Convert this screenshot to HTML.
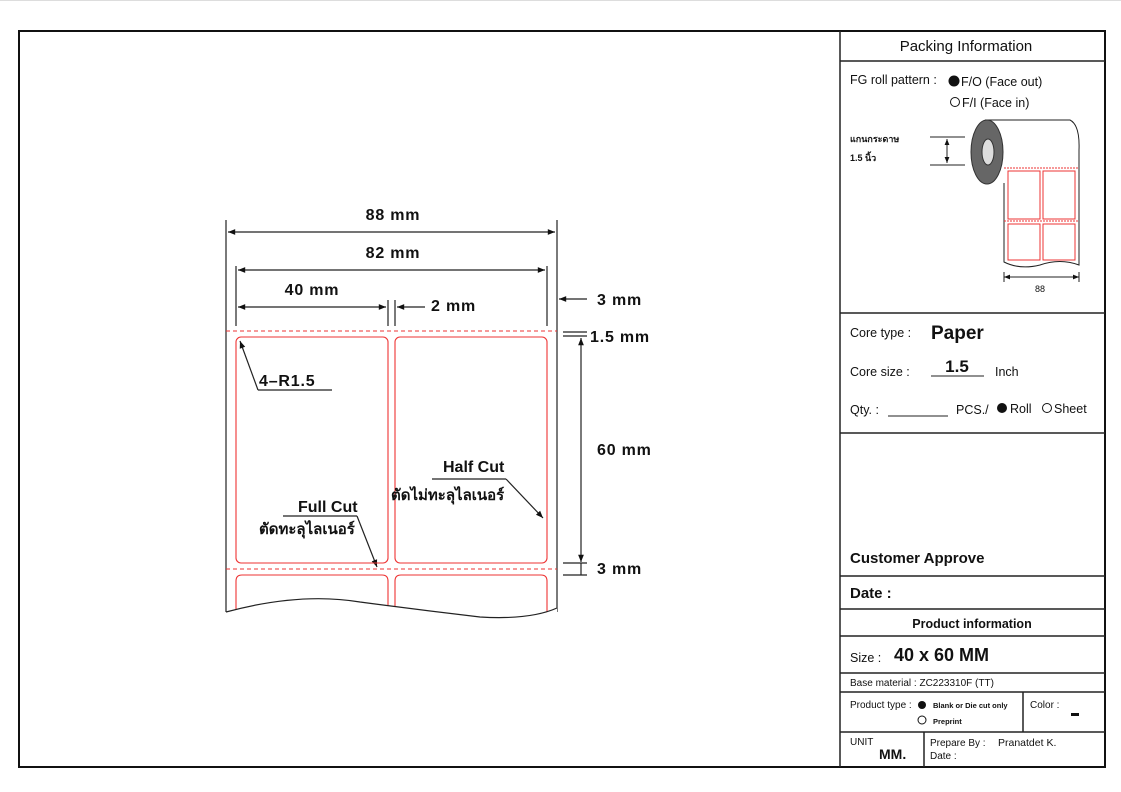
<!DOCTYPE html>
<html><head><meta charset="utf-8"><style>
html,body{margin:0;padding:0;background:#fff}
svg{display:block}
text{font-family:"Liberation Sans","Noto Sans CJK SC",sans-serif;fill:#111}
.b{font-weight:bold}
</style></head><body>
<svg width="1121" height="792" viewBox="0 0 1121 792" xmlns="http://www.w3.org/2000/svg">
<defs>
<marker id="a" viewBox="0 0 10 10" refX="10" refY="5" markerWidth="8" markerHeight="6" orient="auto-start-reverse"><path d="M0,1 L10,5 L0,9 z" fill="#111"/></marker>
</defs>
<line x1="0" y1="0.5" x2="1121" y2="0.5" stroke="#ddd"/>
<rect x="19" y="31" width="1086" height="736" fill="none" stroke="#111" stroke-width="2"/>
<g stroke="#222" stroke-width="1.5" fill="none">
<line x1="840" y1="31" x2="840" y2="767"/>
<line x1="840" y1="61" x2="1105" y2="61"/>
<line x1="840" y1="313" x2="1105" y2="313"/>
<line x1="840" y1="433" x2="1105" y2="433"/>
<line x1="840" y1="576" x2="1105" y2="576"/>
<line x1="840" y1="609" x2="1105" y2="609"/>
<line x1="840" y1="636" x2="1105" y2="636"/>
<line x1="840" y1="673" x2="1105" y2="673"/>
<line x1="840" y1="692" x2="1105" y2="692"/>
<line x1="840" y1="732" x2="1105" y2="732"/>
<line x1="1023" y1="692" x2="1023" y2="732"/>
<line x1="924" y1="732" x2="924" y2="767"/>
</g>
<text x="966" y="51" font-size="15" text-anchor="middle">Packing Information</text>
<text x="850" y="84" font-size="12.5">FG roll pattern :</text>
<circle cx="954" cy="81" r="5.5" fill="#111"/>
<text x="961" y="86" font-size="12.5">F/O (Face out)</text>
<circle cx="955" cy="102" r="4.5" fill="none" stroke="#111"/>
<text x="962" y="107" font-size="12.5">F/I (Face in)</text>
<text x="850" y="142" font-size="9" class="b">แกนกระดาษ</text>
<text x="850" y="161" font-size="9" class="b">1.5 นิ้ว</text>
<g stroke="#222" stroke-width="1" fill="none">
<line x1="930" y1="137" x2="965" y2="137"/><line x1="930" y1="165" x2="965" y2="165"/>
<line x1="947" y1="139" x2="947" y2="163" marker-start="url(#a)" marker-end="url(#a)"/>
<path d="M985,120 L1070,120 Q1080,125 1079,150 L1079,265 Q1060,258 1040,265 Q1020,270 1004,262 L1004,183"/>
<line x1="1004" y1="277" x2="1079" y2="277" marker-start="url(#a)" marker-end="url(#a)"/>
<line x1="1004" y1="272" x2="1004" y2="282"/><line x1="1079" y1="272" x2="1079" y2="282"/>
</g>
<ellipse cx="987" cy="152" rx="16" ry="32" fill="#666" stroke="#333"/>
<ellipse cx="988" cy="152" rx="6" ry="13" fill="#ddd" stroke="#333"/>
<g stroke="#e33" stroke-width="1" fill="none">
<line x1="1004" y1="168" x2="1079" y2="168" stroke-dasharray="2,1"/>
<line x1="1004" y1="221" x2="1079" y2="221" stroke-dasharray="2,1"/>
<rect x="1008" y="171" width="32" height="48"/><rect x="1043" y="171" width="32" height="48"/>
<rect x="1008" y="224" width="32" height="36"/><rect x="1043" y="224" width="32" height="36"/>
</g>
<text x="1040" y="292" font-size="9" text-anchor="middle">88</text>

<text x="850" y="337" font-size="12.5">Core type :</text>
<text x="931" y="339" font-size="19" class="b">Paper</text>
<text x="850" y="376" font-size="12.5">Core size :</text>
<text x="957" y="372" font-size="17" class="b" text-anchor="middle">1.5</text>
<line x1="931" y1="376" x2="984" y2="376" stroke="#222"/>
<text x="995" y="376" font-size="12.5">Inch</text>
<text x="850" y="414" font-size="12.5">Qty. :</text>
<line x1="888" y1="416" x2="948" y2="416" stroke="#222"/>
<text x="956" y="414" font-size="12.5">PCS./</text>
<circle cx="1002" cy="408" r="5" fill="#111"/>
<text x="1010" y="413" font-size="12.5">Roll</text>
<circle cx="1047" cy="408" r="4.5" fill="none" stroke="#111"/>
<text x="1054" y="413" font-size="12.5">Sheet</text>
<text x="850" y="563" font-size="15" class="b">Customer Approve</text>
<text x="850" y="598" font-size="15" class="b">Date :</text>
<text x="972" y="628" font-size="12.5" class="b" text-anchor="middle">Product information</text>
<text x="850" y="662" font-size="12.5">Size :</text>
<text x="894" y="661" font-size="18" class="b">40 x 60 MM</text>
<text x="850" y="686" font-size="10">Base material : ZC223310F (TT)</text>
<text x="850" y="708" font-size="10">Product type :</text>
<circle cx="922" cy="705" r="4" fill="#111"/>
<text x="933" y="708" font-size="7.5" class="b">Blank or Die cut only</text>
<circle cx="922" cy="720" r="4" fill="none" stroke="#111"/>
<text x="933" y="724" font-size="7.5" class="b">Preprint</text>
<text x="1030" y="708" font-size="10">Color :</text>
<rect x="1071" y="713" width="8" height="3" fill="#111"/>
<text x="850" y="745" font-size="10">UNIT</text>
<text x="879" y="759" font-size="14" class="b">MM.</text>
<text x="930" y="746" font-size="10">Prepare By :</text>
<text x="998" y="746" font-size="10.5">Pranatdet K.</text>
<text x="930" y="759" font-size="10">Date :</text>

<g stroke="#222" stroke-width="1.2" fill="none">
<line x1="226" y1="220" x2="226" y2="612"/>
<line x1="557" y1="220" x2="557" y2="612"/>
<line x1="228" y1="232" x2="555" y2="232" marker-start="url(#a)" marker-end="url(#a)"/>
<line x1="236" y1="266" x2="236" y2="326"/>
<line x1="547" y1="266" x2="547" y2="326"/>
<line x1="238" y1="270" x2="545" y2="270" marker-start="url(#a)" marker-end="url(#a)"/>
<line x1="388" y1="300" x2="388" y2="326"/>
<line x1="395" y1="300" x2="395" y2="326"/>
<line x1="238" y1="307" x2="386" y2="307" marker-start="url(#a)" marker-end="url(#a)"/>
<line x1="425" y1="307" x2="397" y2="307" marker-end="url(#a)"/>
<line x1="587" y1="299" x2="559" y2="299" marker-end="url(#a)"/>
<line x1="563" y1="332" x2="587" y2="332"/>
<line x1="563" y1="336" x2="587" y2="336"/>
<line x1="581" y1="338" x2="581" y2="562" marker-start="url(#a)" marker-end="url(#a)"/>
<line x1="563" y1="563" x2="587" y2="563"/>
<line x1="563" y1="575" x2="587" y2="575"/>
<line x1="581" y1="563" x2="581" y2="575"/>
<line x1="332" y1="390" x2="258" y2="390"/>
<line x1="258" y1="390" x2="240" y2="341" marker-end="url(#a)"/>
<line x1="283" y1="516" x2="357" y2="516"/>
<line x1="357" y1="516" x2="377" y2="567" marker-end="url(#a)"/>
<line x1="432" y1="479" x2="506" y2="479"/>
<line x1="506" y1="479" x2="543" y2="518" marker-end="url(#a)"/>
</g>
<g stroke="#e33" stroke-width="1.1" fill="none">
<line x1="226" y1="331" x2="557" y2="331" stroke-dasharray="4,3"/>
<line x1="226" y1="569" x2="557" y2="569" stroke-dasharray="4,3"/>
<rect x="236" y="337" width="152" height="226" rx="5"/>
<rect x="395" y="337" width="152" height="226" rx="5"/>
<path d="M236,615 L236,581 Q236,575 242,575 L382,575 Q388,575 388,581 L388,615"/>
<path d="M395,615 L395,581 Q395,575 401,575 L541,575 Q547,575 547,581 L547,615"/>
</g>
<path d="M226,612 Q300,592 360,602 Q420,610 480,617 Q530,620 557,608 L557,625 L226,625 z" fill="#fff"/>
<path d="M226,612 Q300,592 360,602 Q420,610 480,617 Q530,620 557,608" stroke="#222" stroke-width="1.2" fill="none"/>
<g class="b" font-size="16" letter-spacing="0.8">
<text x="393" y="220" text-anchor="middle" class="b">88 mm</text>
<text x="393" y="258" text-anchor="middle" class="b">82 mm</text>
<text x="312" y="295" text-anchor="middle" class="b">40 mm</text>
<text x="431" y="311" class="b">2 mm</text>
<text x="597" y="305" class="b">3 mm</text>
<text x="590" y="342" class="b">1.5 mm</text>
<text x="597" y="455" class="b">60 mm</text>
<text x="597" y="574" class="b">3 mm</text>
<text x="259" y="386" class="b">4–R1.5</text>
<text x="443" y="472" class="b" letter-spacing="0">Half Cut</text>
<text x="298" y="512" class="b" letter-spacing="0">Full Cut</text>
</g>
<text x="391" y="500" font-size="15" class="b">ตัดไม่ทะลุไลเนอร์</text>
<text x="259" y="534" font-size="15" class="b">ตัดทะลุไลเนอร์</text>
</svg>
</body></html>
